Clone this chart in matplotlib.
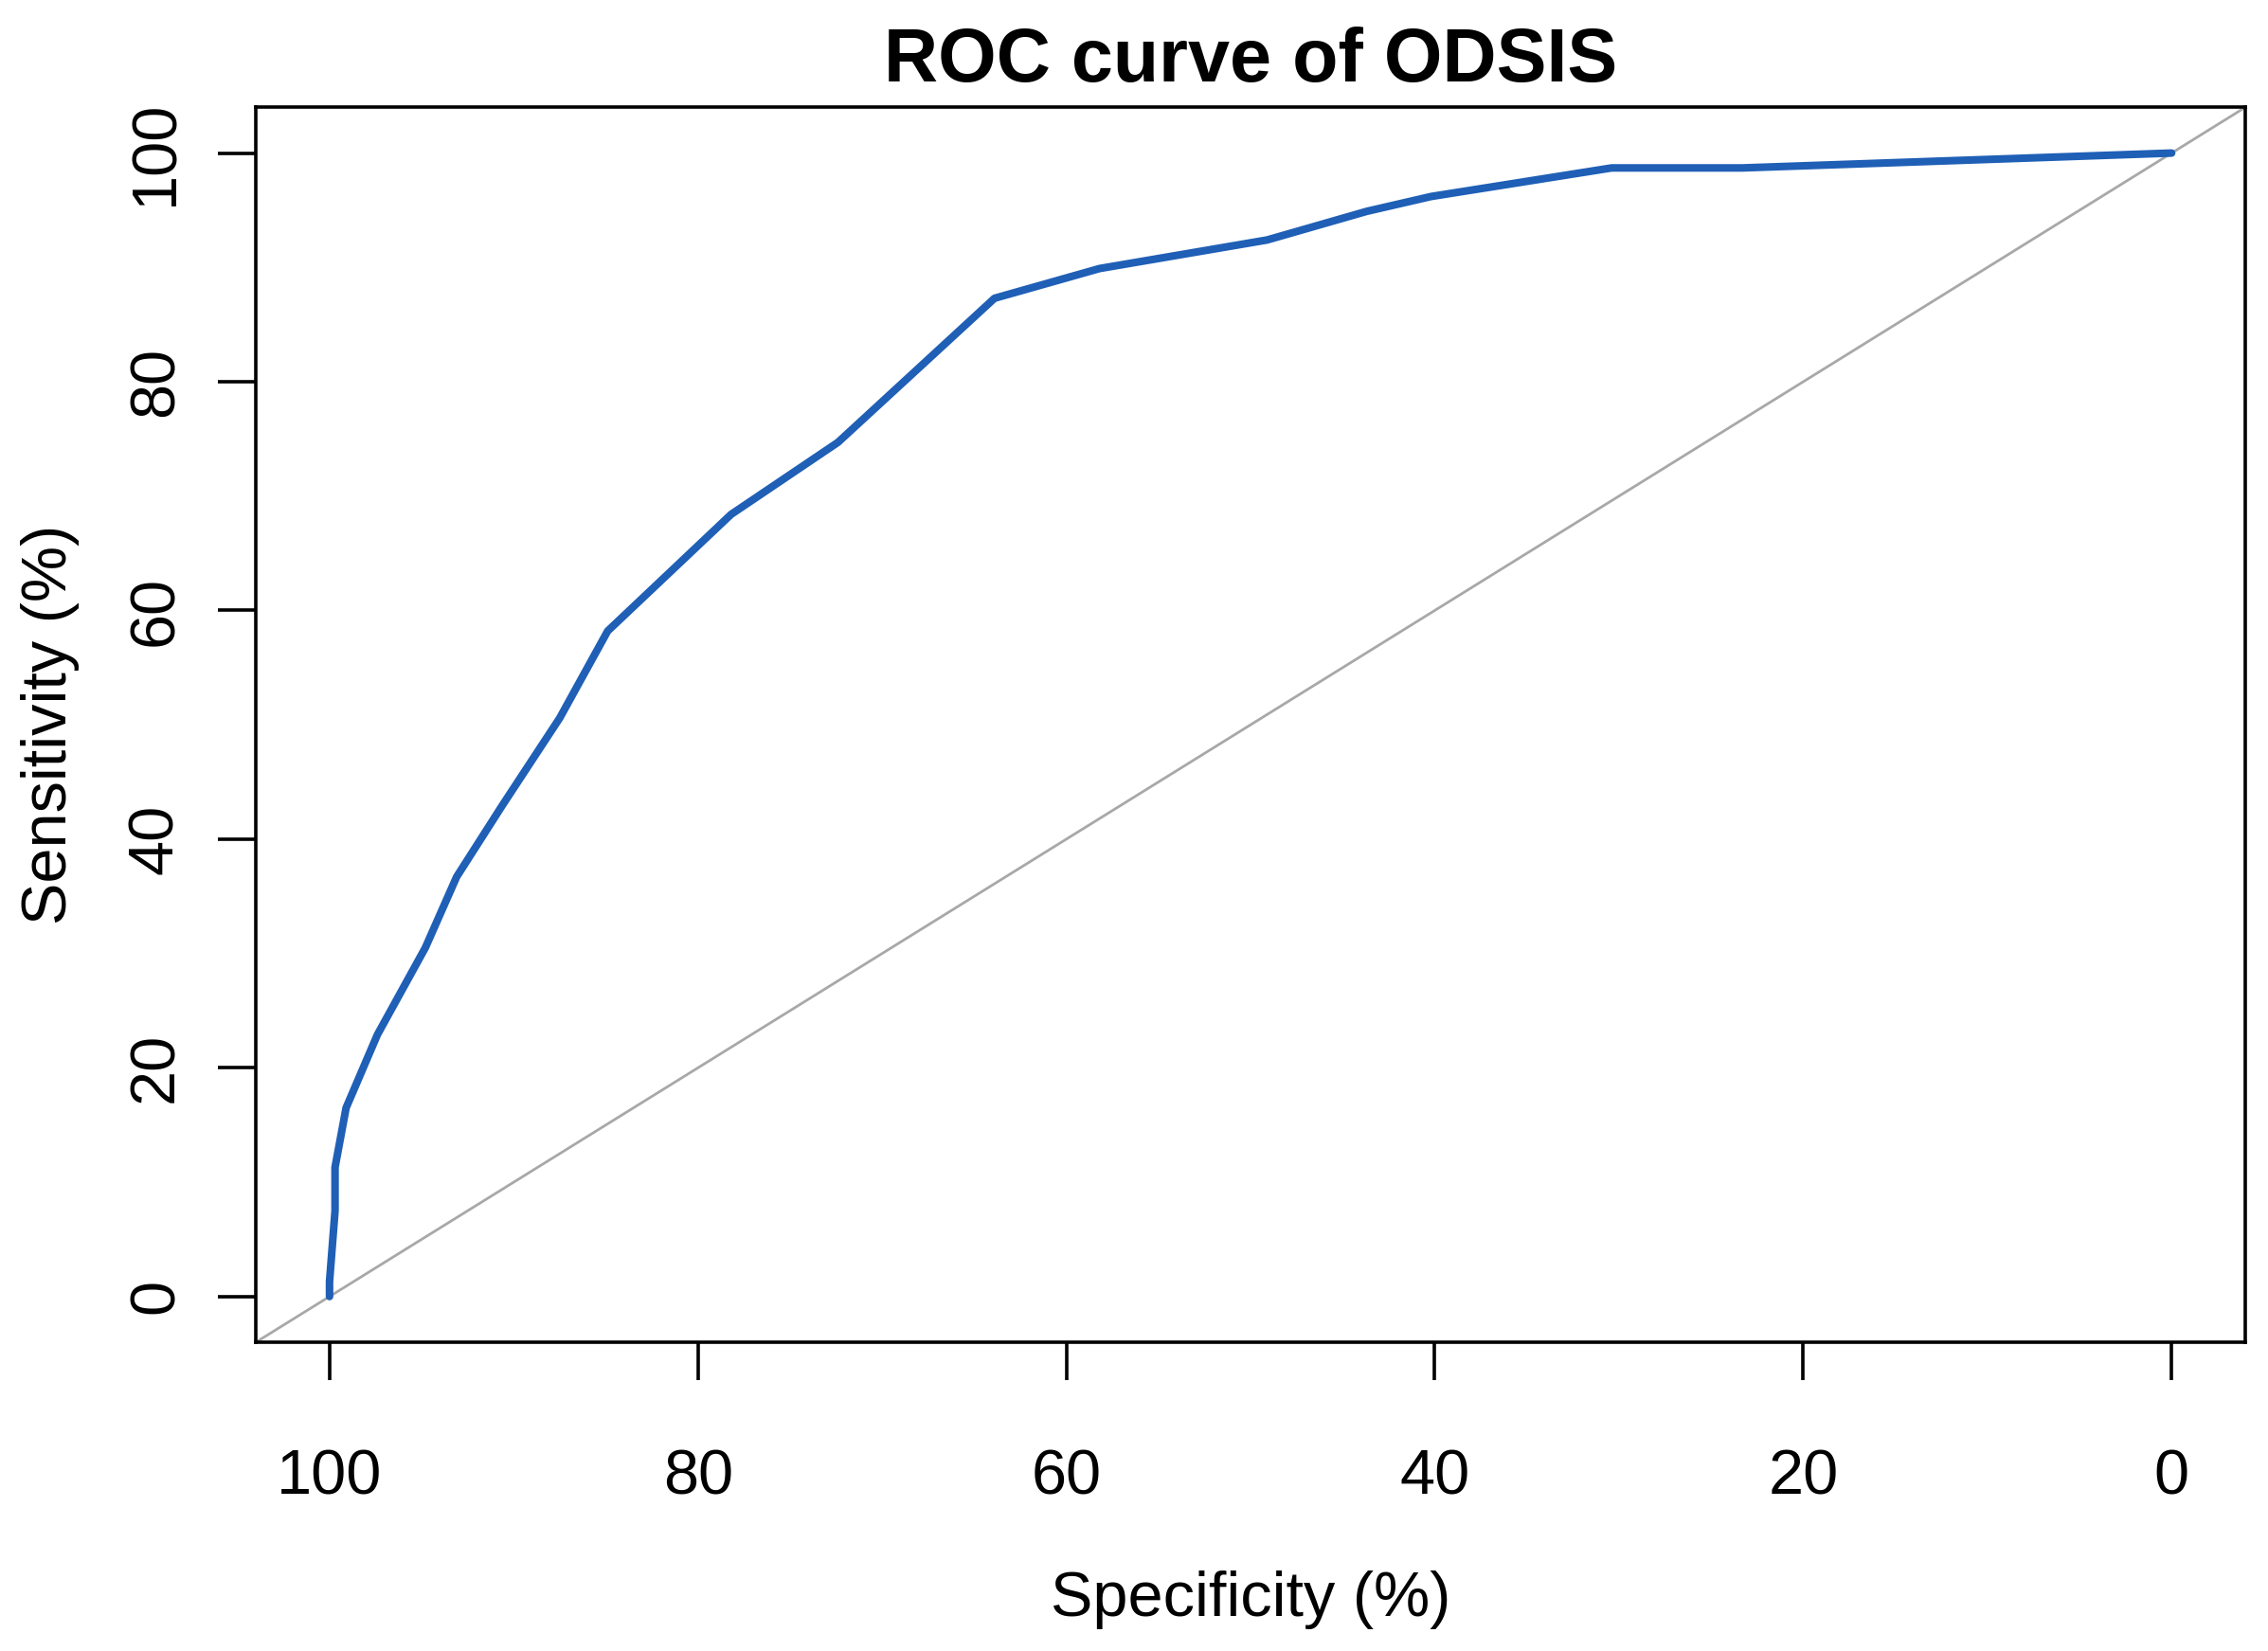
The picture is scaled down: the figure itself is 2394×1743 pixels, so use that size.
import matplotlib
matplotlib.use("Agg")
import matplotlib.pyplot as plt

plt.rcParams['font.family'] = ['Liberation Sans', 'DejaVu Sans']

specificity = [100, 100, 99.7, 99.7, 99.1, 97.4, 94.8, 93.1, 90.6, 87.5, 84.9,
               78.2, 72.4, 63.9, 58.2, 49.1, 43.7, 40.2, 30.4, 23.3, 0]
sensitivity = [0, 1.3, 7.5, 11.3, 16.5, 22.9, 30.5, 36.7, 43.0, 50.6, 58.2,
               68.4, 74.7, 87.3, 89.9, 92.4, 94.9, 96.2, 98.7, 98.7, 100]
ticks = [100, 80, 60, 40, 20, 0]
yticks = [0, 20, 40, 60, 80, 100]

fig = plt.figure(figsize=(11.97, 8.715), dpi=200)
ax = fig.add_axes([0.1128, 0.187, 0.990 - 0.1128, 0.935 - 0.187])

ax.axline((100, 0), (0, 100), color='#a8a8a8', lw=1.0, zorder=1)
ax.plot(specificity, sensitivity, color='#1f5fb6', lw=2.9, solid_capstyle='round',
        solid_joinstyle='round', zorder=2)

ax.set_xlim(104, -4)
ax.set_ylim(-4, 104)
ax.set_xticks(ticks)
ax.set_yticks(yticks)
ax.set_xticklabels([str(t) for t in ticks])
ax.set_yticklabels([str(t) for t in yticks], rotation=90, va='center')
ax.tick_params(axis='both', length=14.5, width=1.3, labelsize=24, direction='out')
ax.tick_params(axis='x', pad=26)
ax.tick_params(axis='y', pad=12)
for s in ax.spines.values():
    s.set_linewidth(1.3)

ax.set_xlabel('Specificity (%)', fontsize=24, labelpad=24)
ax.set_ylabel('Sensitivity (%)', fontsize=24, labelpad=18)
ax.set_title('ROC curve of ODSIS', fontsize=28.5, fontweight='bold', pad=10)

fig.savefig('out.png', dpi=200)
